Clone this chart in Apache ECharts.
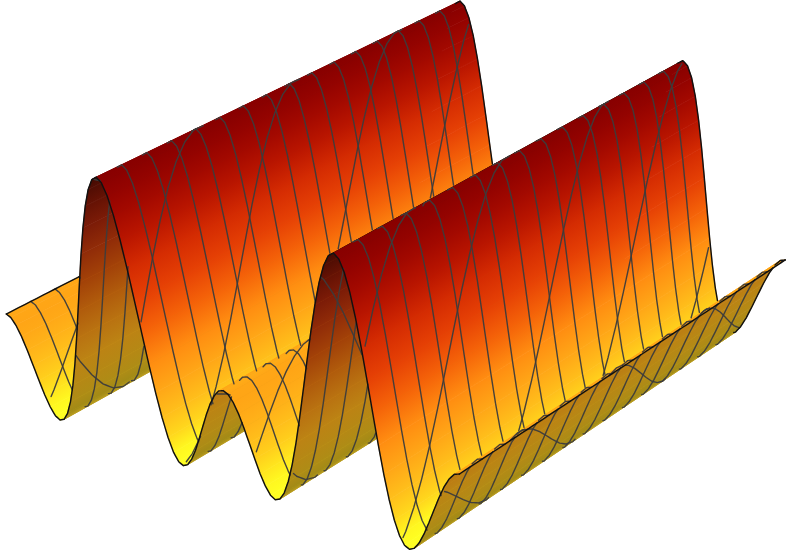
<!DOCTYPE html>
<html><head><meta charset="utf-8">
<style>html,body{margin:0;padding:0;background:#fff}#c{width:790px;height:559px}</style>
<script src="https://cdn.jsdelivr.net/npm/echarts@6/dist/echarts.min.js"></script>
</head><body><div id="c"></div>
<script>
// Height of the wave profile (0 = valley, 1 = big crest), every 7.5 degrees of phase
const profileHeight = [
 .360,.352,.328,.291,.243,.189,.134,.082,.040,.011,.000,.009,.040,.093,.166,.256,.360,.472,.586,.697,.797,.882,.946,.986,1.000,
 .986,.946,.882,.797,.697,.586,.472,.360,.256,.166,.093,.040,.009,.000,.011,.040,.082,.134,.189,.243,.291,.328,.352,.360,
 .352,.328,.291,.243,.189,.134,.082,.040,.011,.000,.009,.040,.093,.166,.256,.360,.472,.586,.697,.797,.882,.946,.986,1.000,
 .986,.946,.882,.797,.697,.586,.472,.360,.256,.166,.093,.040,.009,.000,.011,.040,.082,.134,.189,.243,.291,.328,.352,.360];
const phaseStep = 7.5;
// Mesh curves: constant depth lines and the oblique family (offsets, in depth units at phase 0)
const depthLines = [1,2,3,4,5,6,7,8,9,10,11,12,13,14,15];
const depthDivisions = 16;
const obliqueOffsets = [.276,.554,.832,1.11,1.37,1.666,1.944,2.222,2.5,2.786,3.046,3.34,3.6,3.89,4.168,4.446];
const obliquePhasePerDepth = 208;
// Colour ramp by height, upper side and underside of the sheet
const rampHeights = [0,.025,.06,.12,.2,.3,.37,.45,.55,.7,.8,.9,1];
const rampColors = ['#ffff22','#fff620','#ffe41e','#ffcc1c','#ffb61a','#ff9c14','#ff8a10','#f86c0a','#ec4806','#d42a02','#b81400','#9e0600','#880000'];
const underHeights = [0,.03,.1,.25,.4,.55,.75,.9,1];
const underColors = ['#c4a422','#a08a16','#b08c16','#bc8414','#b86c10','#a84808','#882008','#601004','#400a02'];

// Projective view: vanishing points of phase, depth, height directions
const O=[60,420], Vu=[-5064,-1476], Vv=[3185,-1317], Vz=[442,3872];
const la=1.12e-4, lv=.1225, lz=-.071;
function param(th,v,z){return [(75-th)*la, v*lv, z*lz];}
function proj3(s,t,r){const w=1+s+t+r;
  return [(O[0]+s*Vu[0]+t*Vv[0]+r*Vz[0])/w,(O[1]+s*Vu[1]+t*Vv[1]+r*Vz[1])/w];}
function proj(th,v,z){const p=param(th,v,z);return proj3(p[0],p[1],p[2]);}
function det(a){return a[0][0]*(a[1][1]*a[2][2]-a[1][2]*a[2][1])-a[0][1]*(a[1][0]*a[2][2]-a[1][2]*a[2][0])+a[0][2]*(a[1][0]*a[2][1]-a[1][1]*a[2][0]);}
const M=[[Vu[0],Vv[0],Vz[0]],[Vu[1],Vv[1],Vz[1]],[1,1,1]], B=[-O[0],-O[1],-1], D=det(M);
const cam=[0,1,2].map(k=>{const m=M.map((row,i)=>row.map((e,j)=>j===k?B[i]:e));return det(m)/D;});

function heightAt(th){const f=Math.max(0,Math.min(profileHeight.length-1.0001,th/phaseStep));const i=Math.floor(f);
  return profileHeight[i]+(profileHeight[i+1]-profileHeight[i])*(f-i);}
function visible(th,v,z){
  const P=param(th,v,z);
  const N=120; let kmax=1;
  const dTh=-(cam[0]-P[0])/la, dV=(cam[1]-P[1])/lv;
  if(dTh>0) kmax=Math.min(kmax,(720-th)/dTh); else if(dTh<0) kmax=Math.min(kmax,(0-th)/dTh);
  if(dV>0) kmax=Math.min(kmax,(1-v)/dV); else if(dV<0) kmax=Math.min(kmax,(0-v)/dV);
  let sign=0;
  for(let i=1;i<=N;i++){const k=kmax*i/N;
    const s=P[0]+k*(cam[0]-P[0]),r=P[2]+k*(cam[2]-P[2]);
    const th2=75-s/la, d=r/lz-heightAt(th2);
    if(Math.abs(d)<.004) continue;
    const sg=d>0?1:-1;
    if(sign===0) sign=sg; else if(sg!==sign) return false;
  }
  return true;
}
function interp(xs,ys,x){if(x<=xs[0])return ys[0];for(let i=1;i<xs.length;i++)if(x<=xs[i]){return ys[i-1]+(ys[i]-ys[i-1])*(x-xs[i-1])/(xs[i]-xs[i-1]);}return ys[ys.length-1];}
function hex(c){return [1,3,5].map(i=>parseInt(c.substr(i,2),16));}
const rampRGB=rampColors.map(hex), underRGB=underColors.map(hex);
// Slopes steeper than the line of sight, rising towards the viewer, show the underside
const viewSlope=(cam[2]/lz)/((75-cam[0]/la)-360)/(Math.PI/180);
function colorAt(i){
  const z=profileHeight[i];
  const lo=Math.max(0,i-1),hi=Math.min(profileHeight.length-1,i+1);
  const slope=(profileHeight[hi]-profileHeight[lo])/((hi-lo)*phaseStep*Math.PI/180);
  const under=slope>viewSlope;
  // flatter low ground catches more light on the upper side
  const flat=Math.max(0,1-Math.abs(slope)/.5)*(z<.6?1:0);
  const zLit=Math.max(0,z-.12*flat*Math.min(1,z/.12));
  const rgb=[0,1,2].map(k=>under?interp(underHeights,underRGB.map(c=>c[k]),z):interp(rampHeights,rampRGB.map(c=>c[k]),zLit));
  return 'rgb('+rgb.map(Math.round).join(',')+')';
}

// Painter order: far depth first, increasing phase
const nU=profileHeight.length-1, nV=16, quads=[];
for(let j=nV-1;j>=0;j--)for(let i=0;i<nU;i++)quads.push([i,j]);

function polyRuns(pts){ // pts: [th,v,z]
  const runs=[];let cur=null;
  pts.forEach((p,idx)=>{
    if(idx===0)return;
    const q=pts[idx-1],m=[(p[0]+q[0])/2,(p[1]+q[1])/2,(p[2]+q[2])/2];
    if(visible(m[0],m[1],m[2])){
      if(!cur){cur=[proj(q[0],q[1],q[2])];runs.push(cur);}
      cur.push(proj(p[0],p[1],p[2]));
    } else cur=null;
  });
  return runs;
}
const sub=3;
function curve(fn){
  const pts=[];
  for(let i=0;i<nU;i++)for(let q=0;q<sub;q++){
    const f=q/sub,th=(i+f)*phaseStep,z=profileHeight[i]+(profileHeight[i+1]-profileHeight[i])*f,v=fn(th);
    if(v>=0&&v<=1)pts.push([th,v,z]);
  }
  const th=nU*phaseStep,v=fn(th); if(v>=0&&v<=1)pts.push([th,v,profileHeight[nU]]);
  return pts;
}
let meshRuns=[];
depthLines.forEach(d=>{meshRuns=meshRuns.concat(polyRuns(curve(()=>d/depthDivisions)));});
obliqueOffsets.forEach(c=>{meshRuns=meshRuns.concat(polyRuns(curve(th=>c-th/obliquePhasePerDepth)));});
let edgeRuns=polyRuns(curve(()=>0)).concat(polyRuns(curve(()=>1)));
[0,nU].forEach(i=>{const pts=[];for(let k=0;k<=64;k++)pts.push([i*phaseStep+(i?-.01:.01),k/64,profileHeight[i]]);edgeRuns=edgeRuns.concat(polyRuns(pts));});

function lineSeries(runs,color,width,z){return {type:'custom',coordinateSystem:'cartesian2d',silent:true,z:z,clip:false,animation:false,
  data:runs.map((r,i)=>[r[0][0],r[0][1],i]),encode:{x:0,y:1},
  renderItem:(p,api)=>({type:'polyline',shape:{points:runs[p.dataIndex].map(q=>api.coord(q))},style:{stroke:color,lineWidth:width,fill:null,lineJoin:'round',lineCap:'round'}})};}

const chart=echarts.init(document.getElementById('c'),null,{renderer:'canvas'});
chart.setOption({animation:false,backgroundColor:'#fff',
 grid:{left:0,right:0,top:0,bottom:0},
 xAxis:{type:'value',min:0,max:790,show:false},
 yAxis:{type:'value',min:0,max:559,inverse:true,show:false},
 series:[
 {type:'custom',coordinateSystem:'cartesian2d',silent:true,z:1,clip:false,animation:false,
  data:quads.map(q=>{const c=proj(q[0]*phaseStep,q[1]/nV,profileHeight[q[0]]);return [c[0],c[1]];}),encode:{x:0,y:1},
  renderItem:(p,api)=>{
    const [i,j]=quads[p.dataIndex];
    const v0=j/nV,v1=(j+1)/nV,t0=i*phaseStep,t1=(i+1)*phaseStep,z0=profileHeight[i],z1=profileHeight[i+1];
    const pts=[proj(t0,v0,z0),proj(t1,v0,z1),proj(t1,v1,z1),proj(t0,v1,z0)].map(q=>api.coord(q));
    let dx=pts[3][0]-pts[0][0],dy=pts[3][1]-pts[0][1];const L=Math.hypot(dx,dy)||1;dx/=L;dy/=L;
    const bx=pts[1][0]-pts[0][0],by=pts[1][1]-pts[0][1],dot=bx*dx+by*dy;
    const nx=bx-dot*dx,ny=by-dot*dy;
    const grad={type:'linear',global:true,x:pts[0][0],y:pts[0][1],x2:pts[0][0]+nx,y2:pts[0][1]+ny,
      colorStops:[{offset:0,color:colorAt(i)},{offset:1,color:colorAt(i+1)}]};
    return {type:'polygon',shape:{points:pts},style:{fill:grad,stroke:grad,lineWidth:.7}};
  }},
 lineSeries(meshRuns,'rgba(60,60,60,.95)',1.4,5),
 lineSeries(edgeRuns,'#111',1.45,6)
 ]});
</script></body></html>
